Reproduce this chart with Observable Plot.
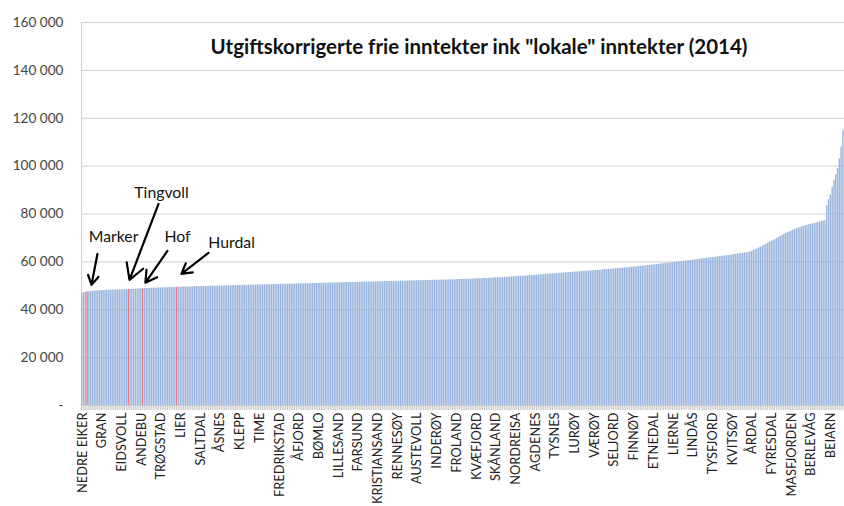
<!DOCTYPE html>
<html><head><meta charset="utf-8">
<script src="https://cdn.jsdelivr.net/npm/d3@7"></script>
<script src="https://cdn.jsdelivr.net/npm/@observablehq/plot@0.6"></script>
<style>body{margin:0;background:#fff} svg{display:block}</style>
</head><body><div id="chart"></div>
<script>
const labels = ["NEDRE EIKER","GRAN","EIDSVOLL","ANDEBU","TRØGSTAD","LIER","SALTDAL","ÅSNES","KLEPP","TIME","FREDRIKSTAD","ÅFJORD","BØMLO","LILLESAND","FARSUND","KRISTIANSAND","RENNESØY","AUSTEVOLL","INDERØY","FROLAND","KVÆFJORD","SKÅNLAND","NORDREISA","AGDENES","TYSNES","LURØY","VÆRØY","SELJORD","FINNØY","ETNEDAL","LIERNE","LINDÅS","TYSFJORD","KVITSØY","ÅRDAL","FYRESDAL","MASFJORDEN","BERLEVÅG","BEIARN"];
const labelStep = 11;
const values = [
46900,47150,47300,47450,47550,47650,47700,47780,47850,47900,47960,
48000,48030,48080,48110,48150,48180,48200,48240,48270,48300,48320,
48350,48380,48400,48430,48460,48490,48520,48560,48600,48640,48680,
48720,48760,48800,48840,48880,48920,48950,48990,49020,49050,49080,
49110,49140,49170,49200,49220,49250,49280,49310,49340,49360,49390,
49410,49440,49460,49490,49510,49540,49560,49580,49610,49630,49660,
49680,49700,49720,49740,49770,49790,49810,49830,49850,49870,49890,
49910,49930,49950,49970,49990,50010,50030,50050,50070,50090,50110,
50130,50150,50170,50190,50210,50230,50250,50270,50290,50310,50330,
50350,50370,50390,50410,50430,50450,50470,50490,50510,50530,50550,
50570,50590,50610,50630,50650,50670,50690,50710,50730,50750,50770,
50790,50810,50830,50850,50870,50890,50910,50930,50950,50970,50990,
51010,51030,51050,51070,51090,51110,51130,51150,51170,51190,51210,
51230,51250,51270,51290,51310,51330,51350,51370,51390,51410,51430,
51450,51470,51490,51510,51530,51550,51570,51590,51610,51630,51650,
51670,51690,51710,51730,51750,51770,51790,51810,51830,51850,51870,
51890,51910,51930,51950,51970,51990,52010,52030,52050,52070,52090,
52110,52130,52150,52170,52190,52210,52230,52250,52270,52290,52310,
52330,52350,52370,52390,52410,52430,52450,52470,52490,52510,52540,
52570,52600,52630,52660,52690,52720,52750,52780,52810,52840,52870,
52900,52940,52980,53020,53060,53100,53140,53180,53220,53260,53300,
53340,53380,53420,53460,53500,53540,53590,53640,53690,53740,53790,
53840,53890,53940,53990,54040,54090,54140,54190,54240,54290,54340,
54400,54460,54520,54580,54640,54700,54760,54820,54880,54940,55000,
55060,55120,55180,55240,55300,55360,55420,55480,55540,55600,55660,
55720,55780,55840,55900,55960,56020,56080,56140,56200,56260,56320,
56380,56440,56500,56560,56620,56680,56740,56800,56860,56920,56980,
57050,57120,57190,57260,57330,57400,57470,57540,57610,57680,57750,
57830,57910,57990,58070,58150,58230,58310,58390,58470,58550,58630,
58720,58810,58900,58990,59080,59170,59260,59350,59440,59530,59620,
59710,59800,59890,59980,60070,60160,60250,60340,60430,60520,60610,
60710,60810,60910,61010,61110,61210,61310,61410,61510,61610,61710,
61810,61910,62010,62110,62210,62310,62410,62510,62610,62710,62810,
62920,63030,63140,63250,63360,63470,63580,63690,63800,63950,64150,
64400,64700,65050,65400,65800,66200,66600,67000,67400,67800,68200,
68600,69000,69400,69800,70200,70600,71000,71400,71800,72200,72550,
72900,73200,73500,73800,74100,74350,74600,74850,75100,75300,75500,
75700,75900,76100,76300,76500,76700,76900,77100,77400,83500,86000,
88000,91000,94000,96500,99000,103000,108000,115000
];
const highlighted = [3, 26, 34, 53];
const yTicks = [0, 20000, 40000, 60000, 80000, 100000, 120000, 140000, 160000];
const title = 'Utgiftskorrigerte frie inntekter ink "lokale" inntekter (2014)';
const annotations = [
  {name: "Marker",   tx: 17.9, ty: 70400, x1: 8.9,  y1: 63300, x2: 5.6,  y2: 50400},
  {name: "Tingvoll", tx: 44.7, ty: 88750, x1: 43.0, y1: 84200, x2: 26.8, y2: 52500},
  {name: "Hof",      tx: 53.6, ty: 70400, x1: 48.0, y1: 64600, x2: 35.7, y2: 51300},
  {name: "Hurdal",   tx: 83.8, ty: 67900, x1: 70.9, y1: 63750, x2: 55.8, y2: 55000}
];

const bars = values.map((v, i) => ({i, v, hl: highlighted.includes(i)}));
const fmt = d => d === 0 ? "-" : d3.format(",")(d).replace(/,/g, "\u00a0");

const chart = Plot.plot({
  width: 844, height: 506,
  marginLeft: 81, marginRight: 0, marginTop: 22, marginBottom: 101,
  x: {domain: [0, values.length], axis: null},
  y: {domain: [0, 160000], axis: null},
  style: {fontFamily: "Lato, sans-serif", background: "#fff"},
  marks: [
    Plot.ruleY(yTicks, {stroke: "#d0d0d0"}),
    Plot.ruleX([0], {stroke: "#d0d0d0"}),
    Plot.rectY(bars, {x1: "i", x2: d => d.i + 1, y: "v", fill: d => d.hl ? "#e8737c" : "#98b4dd", insetRight: 0.4}),
    Plot.axisX({ticks: d3.range(values.length + 1), tickSize: 5, tickFormat: () => "", stroke: "#c4c4c4"}),
    Plot.axisX({ticks: labels.map((_, k) => k * labelStep + 0.5), tickFormat: d => labels[Math.round((d - 0.5) / labelStep)],
      tickRotate: -90, tickSize: 0, tickPadding: 7, fontSize: 12.8, fill: "#222"}),
    Plot.axisY({ticks: yTicks, tickSize: 0, tickPadding: 18, tickFormat: fmt, fontSize: 13.6, fill: "#444"}),
    Plot.text([title], {frameAnchor: "top", dx: 16, dy: 25, lineAnchor: "middle", fontWeight: "bold", fontSize: 20.5, fill: "#111"}),
    Plot.arrow(annotations, {x1: "x1", y1: "y1", x2: "x2", y2: "y2", stroke: "#000", strokeWidth: 2.2, headLength: 12}),
    Plot.text(annotations, {x: "tx", y: "ty", text: "name", fontSize: 15.8, fill: "#111"})
  ]
});
document.getElementById("chart").appendChild(chart);
</script>
</body></html>
